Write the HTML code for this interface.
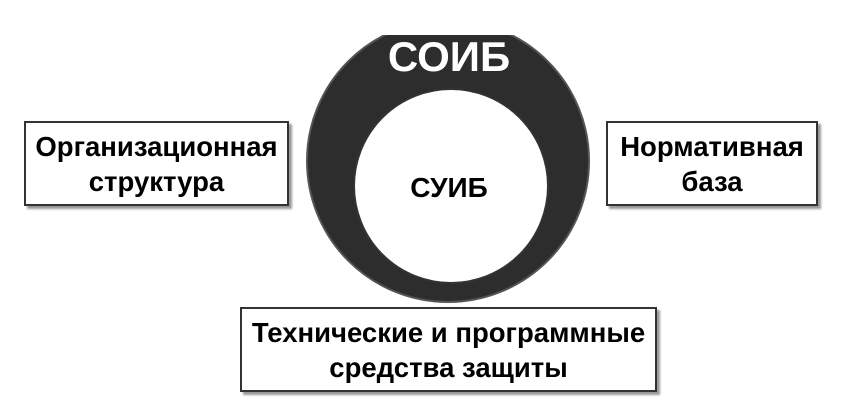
<!DOCTYPE html>
<html><head><style>
body{margin:0;width:864px;height:401px;background:#fff;position:relative;overflow:hidden;font-family:"Liberation Sans",sans-serif;font-weight:bold;}
.box{position:absolute;border:2px solid #333;background:#fff;box-shadow:3px 3px 2px #999;display:flex;align-items:center;justify-content:center;text-align:center;font-size:27.5px;line-height:35px;color:#000;box-sizing:border-box;white-space:nowrap;}
</style></head><body>
<svg width="864" height="401" style="position:absolute;left:0;top:0">
<circle cx="448" cy="161" r="141" fill="#2d2d2d" stroke="#555" stroke-width="2"/>
<circle cx="451" cy="186" r="97" fill="#fff" stroke="#333" stroke-width="2"/>
<rect x="372" y="0" width="155" height="35" fill="#fff"/>
<text x="449" y="71" text-anchor="middle" font-family="Liberation Sans" font-weight="bold" font-size="42" fill="#fff">СОИБ</text>
<text x="449" y="197" text-anchor="middle" font-family="Liberation Sans" font-weight="bold" font-size="28" fill="#000">СУИБ</text>
</svg>
<div class="box" style="left:24px;top:121px;width:265px;height:85px">Организационная<br>структура</div>
<div class="box" style="left:606px;top:121px;width:212px;height:85px">Нормативная<br>база</div>
<div class="box" style="left:240px;top:307px;width:417px;height:85px">Технические и программные<br>средства защиты</div>
</body></html>
